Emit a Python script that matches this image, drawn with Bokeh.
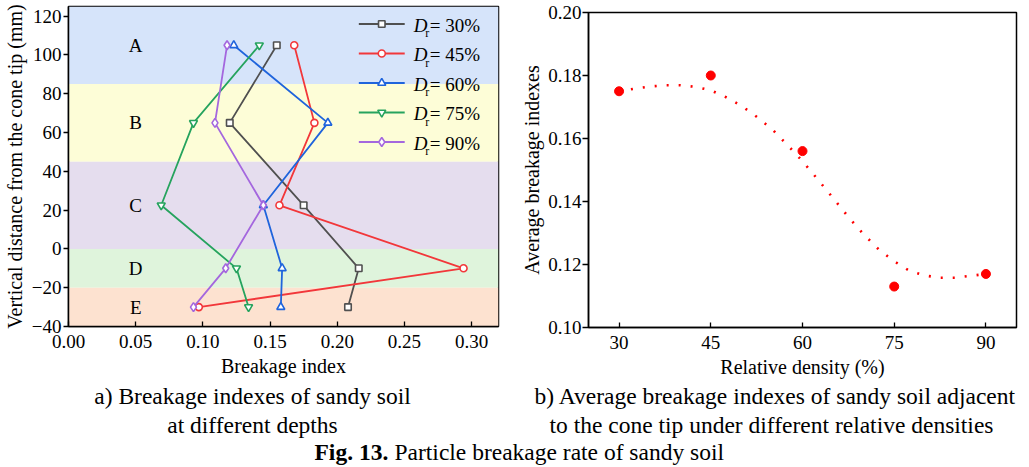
from bokeh.plotting import figure
from bokeh.layouts import row, column
from bokeh.models import Range1d, BoxAnnotation, FixedTicker, NumeralTickFormatter
from bokeh.core.properties import value
from bokeh.embed import file_html
from bokeh.resources import INLINE

# ---------------- data: panel a ----------------
depth_mm = [105, 65, 22.5, -10, -30]
zone_names = ["A", "B", "C", "D", "E"]
zone_edges = [125, 85, 45, 0, -20, -40]
zone_colors = ["#d6e4fa", "#fdfdd7", "#e5ddee", "#dff4dc", "#fde2d0"]

bi_dr30 = [0.155, 0.120, 0.175, 0.216, 0.208]
bi_dr45 = [0.168, 0.183, 0.157, 0.294, 0.097]
bi_dr60 = [0.123, 0.193, 0.145, 0.159, 0.158]
bi_dr75 = [0.142, 0.093, 0.069, 0.125, 0.134]
bi_dr90 = [0.118, 0.109, 0.145, 0.117, 0.093]
series_labels = ["= 30%", "= 45%", "= 60%", "= 75%", "= 90%"]
series_colors = ["#505050", "#f2373a", "#1f64dc", "#26a35e", "#a467de"]
series_markers = ["square", "circle", "triangle", "inverted_triangle", "diamond"]
series_sizes = [6.5, 7, 8, 8, 9]

x_ticks_a = [0.0, 0.05, 0.10, 0.15, 0.20, 0.25, 0.30]
y_ticks_a = [-40, -20, 0, 20, 40, 60, 80, 100, 120]

# ---------------- data: panel b ----------------
density = [30, 45, 60, 75, 90]
avg_bi = [0.175, 0.180, 0.156, 0.113, 0.117]
fit_density = [30, 32.5, 35, 37.5, 40, 42.5, 45, 47.5, 50, 52.5, 55, 57.5, 60,
               62.5, 65, 67.5, 70, 72.5, 75, 77.5, 80, 82.5, 85, 87.5, 90]
fit_avg_bi = [0.1750, 0.1758, 0.1765, 0.1769, 0.1769, 0.1764, 0.1753, 0.1731,
              0.1704, 0.1669, 0.1630, 0.1580, 0.1528, 0.1470, 0.1411, 0.1351,
              0.1296, 0.1247, 0.1210, 0.1180, 0.1165, 0.1158, 0.1158, 0.1164, 0.1170]
x_ticks_b = [30, 45, 60, 75, 90]
y_ticks_b = [0.10, 0.12, 0.14, 0.16, 0.18, 0.20]

# ---------------- captions ----------------
caption_a = ["a) Breakage indexes of sandy soil", "at different depths"]
caption_b = ["b) Average breakage indexes of sandy soil adjacent",
             "to the cone tip under different relative densities"]
fig_number = "Fig. 13."
fig_title = "Particle breakage rate of sandy soil"

FONT = "Liberation Serif"
TICK_FS = "19px"
LABEL_FS = "20px"


def style_axes(p):
    for ax in (p.xaxis[0], p.yaxis[0]):
        ax.axis_line_color = "black"
        ax.axis_line_width = 1.5
        ax.major_tick_line_color = "black"
        ax.major_tick_line_width = 1.3
        ax.minor_tick_line_color = None
        ax.major_label_text_font = FONT
        ax.major_label_text_font_size = TICK_FS
        ax.major_label_text_color = "black"
        ax.axis_label_text_font = FONT
        ax.axis_label_text_font_size = LABEL_FS
        ax.axis_label_text_font_style = "normal"
        ax.axis_label_text_color = "black"
    p.xgrid.visible = False
    p.ygrid.visible = False
    p.outline_line_color = "black"
    p.outline_line_width = 1.5
    p.background_fill_color = "white"
    p.border_fill_color = "white"


# ================= panel a =================
LW, LH = 512, 380
LB_L, LB_R, LB_T, LB_B = 67, 14, 6, 54
xa0, xa1 = 0.0, 0.32
ya0, ya1 = -40, 125

pa = figure(width=LW, height=LH, output_backend="svg", toolbar_location=None,
            title=None,
            x_range=Range1d(xa0, xa1), y_range=Range1d(ya0, ya1),
            min_border_left=LB_L, min_border_right=LB_R,
            min_border_top=LB_T, min_border_bottom=LB_B)
style_axes(pa)
pa.xaxis.axis_label = "Breakage index"
pa.yaxis.axis_label = "Vertical distance from the cone tip (mm)"
pa.xaxis.ticker = FixedTicker(ticks=x_ticks_a)
pa.yaxis.ticker = FixedTicker(ticks=y_ticks_a)
pa.xaxis.formatter = NumeralTickFormatter(format="0.00")
pa.xaxis.major_tick_in = 5
pa.xaxis.major_tick_out = 0
pa.xaxis.major_label_standoff = 8
pa.xaxis.axis_label_standoff = 4
pa.yaxis.major_tick_in = 0
pa.yaxis.major_tick_out = 5
pa.yaxis.major_label_standoff = 2
pa.yaxis.axis_label_standoff = 3

for i, c in enumerate(zone_colors):
    top = zone_edges[i] if i > 0 else None
    pa.add_layout(BoxAnnotation(bottom=zone_edges[i + 1], top=top, fill_color=c,
                                fill_alpha=1.0, line_color=None, level="underlay"))

pa.text(x=[0.05] * len(zone_names), y=depth_mm, text=zone_names,
        text_font=value(FONT), text_font_size="19px", text_align="center",
        text_baseline="middle", text_color="black")

all_series = [bi_dr30, bi_dr45, bi_dr60, bi_dr75, bi_dr90]
for vals, col, mk, sz in zip(all_series, series_colors, series_markers, series_sizes):
    pa.line(vals, depth_mm, line_color=col, line_width=1.8)
    pa.scatter(vals, depth_mm, marker=mk, size=sz, line_color=col,
               fill_color="white", line_width=1.6)

# manual legend (positions given in screen pixels, converted to data units)
frame_w = LW - LB_L - LB_R
frame_h = LH - LB_T - LB_B


def lx(px):
    return xa0 + (px - LB_L) / frame_w * (xa1 - xa0)


def ly(py):
    return ya1 - (py - LB_T) / frame_h * (ya1 - ya0)


for i, (lab, col, mk, sz) in enumerate(zip(series_labels, series_colors, series_markers, series_sizes)):
    ry = 23.5 + 29.5 * i
    yy = ly(ry)
    pa.line([lx(358), lx(404)], [yy, yy], line_color=col, line_width=1.8)
    pa.scatter([lx(381)], [yy], marker=mk, size=sz, line_color=col,
               fill_color="white", line_width=1.6)
    pa.text(x=[lx(413)], y=[ly(ry + 1)], text=["D"], text_font=value(FONT),
            text_font_size="19px", text_font_style="italic", text_baseline="middle",
            text_color="black")
    pa.text(x=[lx(424.5)], y=[ly(ry + 9)], text=["r"], text_font=value(FONT),
            text_font_size="12px", text_baseline="middle", text_color="black")
    pa.text(x=[lx(429)], y=[ly(ry + 1)], text=[lab], text_font=value(FONT),
            text_font_size="19px", text_baseline="middle", text_color="black")

# ================= panel b =================
RW, RH = 517, 380
pb = figure(width=RW, height=RH, output_backend="svg", toolbar_location=None,
            title=None,
            x_range=Range1d(25, 95), y_range=Range1d(0.10, 0.20),
            min_border_left=76, min_border_right=13,
            min_border_top=12, min_border_bottom=52)
style_axes(pb)
pb.xaxis.axis_label = "Relative density (%)"
pb.yaxis.axis_label = "Average breakage indexes"
pb.xaxis.ticker = FixedTicker(ticks=x_ticks_b)
pb.yaxis.ticker = FixedTicker(ticks=y_ticks_b)
pb.yaxis.formatter = NumeralTickFormatter(format="0.00")
pb.xaxis.major_tick_in = 5
pb.xaxis.major_tick_out = 0
pb.xaxis.major_label_standoff = 8
pb.xaxis.axis_label_standoff = 4
pb.yaxis.major_tick_in = 0
pb.yaxis.major_tick_out = 6
pb.yaxis.major_label_standoff = 1
pb.yaxis.axis_label_standoff = 2

pb.line(fit_density, fit_avg_bi, line_color="#ff0000", line_width=2.6,
        line_dash="2 10")
pb.scatter(density, avg_bi, marker="circle", size=9, fill_color="#ff0000",
           line_color="#ff0000")

# ================= captions =================
CW, CH = 1029, 87
pc = figure(width=CW, height=CH, output_backend="svg", toolbar_location=None,
            title=None,
            x_range=Range1d(0, CW), y_range=Range1d(CH, 0),
            min_border=0, x_axis_type=None, y_axis_type=None)
pc.xgrid.visible = False
pc.ygrid.visible = False
pc.outline_line_color = None
pc.background_fill_color = "white"
pc.border_fill_color = "white"

cap_fs = "23.5px"
pc.text(x=[252, 252], y=[15.7, 44], text=caption_a, text_font=value(FONT),
        text_font_size=cap_fs, text_align="center", text_baseline="middle",
        text_color="black")
pc.text(x=[775, 771], y=[15.7, 44], text=caption_b, text_font=value(FONT),
        text_font_size=cap_fs, text_align="center", text_baseline="middle",
        text_color="black")
pc.text(x=[314], y=[71.7], text=[fig_number], text_font=value(FONT),
        text_font_size=cap_fs, text_font_style="bold", text_align="left",
        text_baseline="middle", text_color="black")
pc.text(x=[394], y=[71.7], text=[fig_title], text_font=value(FONT),
        text_font_size=cap_fs, text_align="left", text_baseline="middle",
        text_color="black")

# nest each panel in its own column so that the two frames are not aligned
layout = column(row(column(pa), column(pb), spacing=0), pc, spacing=0)

with open("out.html", "w") as f:
    f.write(file_html(layout, INLINE))
